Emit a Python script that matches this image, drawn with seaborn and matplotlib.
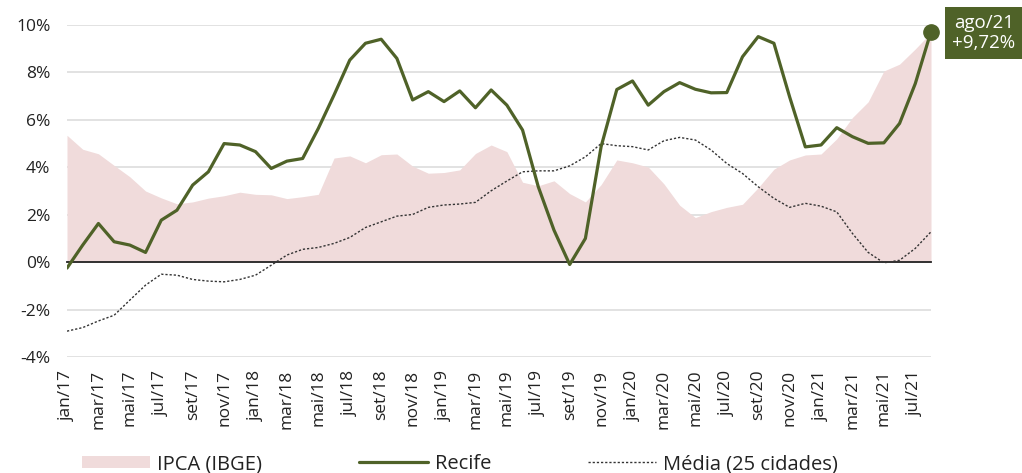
import numpy as np
import pandas as pd
import matplotlib
matplotlib.use('Agg')
import matplotlib.pyplot as plt
from matplotlib.patches import Patch
from matplotlib.lines import Line2D
import seaborn as sns

# ========== 数据 ==========
meses = ['jan', 'fev', 'mar', 'abr', 'mai', 'jun', 'jul', 'ago', 'set', 'out', 'nov', 'dez']
periodos = [f'{m}/{a}' for a in ['17', '18', '19', '20', '21'] for m in meses][:56]   # jan/17 .. ago/21

ipca = [5.35, 4.76, 4.57, 4.08, 3.60, 3.00, 2.71, 2.46, 2.54, 2.70, 2.80, 2.95,
        2.86, 2.84, 2.68, 2.76, 2.86, 4.39, 4.48, 4.19, 4.53, 4.56, 4.05, 3.75,
        3.78, 3.89, 4.58, 4.94, 4.66, 3.37, 3.22, 3.43, 2.89, 2.54, 3.27, 4.31,
        4.19, 4.01, 3.30, 2.40, 1.88, 2.13, 2.31, 2.44, 3.14, 3.92, 4.31, 4.52,
        4.56, 5.20, 6.10, 6.76, 8.06, 8.35, 8.99, 9.68]

recife = [-0.25, 0.72, 1.63, 0.86, 0.72, 0.41, 1.77, 2.19, 3.25, 3.81, 5.00, 4.94,
          4.66, 3.95, 4.26, 4.37, 5.64, 7.05, 8.52, 9.23, 9.40, 8.59, 6.84, 7.19,
          6.77, 7.22, 6.51, 7.26, 6.62, 5.57, 3.18, 1.35, -0.10, 1.00, 4.87, 7.28,
          7.64, 6.62, 7.19, 7.57, 7.29, 7.14, 7.15, 8.66, 9.51, 9.23, 6.97, 4.86,
          4.94, 5.67, 5.29, 5.01, 5.03, 5.85, 7.53, 9.72]

media = [-2.91, -2.76, -2.48, -2.24, -1.60, -0.97, -0.51, -0.55, -0.73, -0.80, -0.83, -0.73,
         -0.55, -0.13, 0.30, 0.54, 0.62, 0.79, 1.04, 1.46, 1.70, 1.94, 2.01, 2.31,
         2.41, 2.45, 2.52, 3.01, 3.42, 3.81, 3.85, 3.85, 4.06, 4.44, 5.00, 4.91,
         4.87, 4.73, 5.12, 5.26, 5.15, 4.73, 4.16, 3.74, 3.18, 2.69, 2.31, 2.48,
         2.36, 2.12, 1.21, 0.41, -0.03, 0.08, 0.58, 1.28]

df = pd.DataFrame({'periodo': periodos, 'ipca': ipca, 'recife': recife, 'media': media})
df['i'] = np.arange(len(df))

verde = '#4f6228'
rosa = '#f0dbdb'
fonte = ['Open Sans', 'DejaVu Sans']

# ========== 绘图 ==========
sns.set_style('white')
plt.rcParams['font.family'] = fonte

fig = plt.figure(figsize=(10.22, 4.73), dpi=100)
ax = fig.add_axes([67 / 1022, 1 - 357 / 473, (931 - 67) / 1022, (357 - 25) / 473])

ax.fill_between(df['i'], 0, df['ipca'], color=rosa, linewidth=0, zorder=1)
sns.lineplot(data=df, x='i', y='media', ax=ax, color='#333333', linewidth=1.0,
             linestyle=(0, (1.6, 1.4)), zorder=3)
sns.lineplot(data=df, x='i', y='recife', ax=ax, color=verde, linewidth=2.3, zorder=4,
             solid_joinstyle='round', solid_capstyle='round')
ax.plot(df['i'].iloc[-1], df['recife'].iloc[-1], 'o', color=verde, markersize=11,
        zorder=5, clip_on=False)

ax.set_xlim(0, len(df) - 1)
ax.set_ylim(-4, 10)
ax.set_yticks([-4, -2, 0, 2, 4, 6, 8, 10])
ax.set_yticklabels([f'{v}%' for v in [-4, -2, 0, 2, 4, 6, 8, 10]])
ax.set_xticks(df['i'][::2])
ax.set_xticklabels(df['periodo'][::2])
ax.set_xlabel('')
ax.set_ylabel('')

for v in [-4, -2, 2, 4, 6, 8, 10]:
    ax.axhline(v, color='#dddddd', linewidth=1.2, zorder=0)

for s in ['top', 'right', 'left']:
    ax.spines[s].set_visible(False)
ax.spines['bottom'].set_position(('data', 0))
ax.spines['bottom'].set_color('#222222')
ax.spines['bottom'].set_linewidth(1.3)
ax.spines['bottom'].set_zorder(2)

ax.tick_params(axis='x', direction='inout', length=9, width=1.0, color='#222222',
               pad=73, labelsize=12.5, labelcolor='#222222', labelrotation=90)
ax.tick_params(axis='y', length=0, pad=12, labelsize=12.5, labelcolor='#222222')

# 标注最后一个点
fig.text(984 / 1022, 1 - 33 / 473, 'ago/21\n+9,72%', ha='center', va='center',
         color='white', fontsize=13.5, linespacing=1.1,
         bbox=dict(boxstyle='square,pad=0.4', facecolor=verde, edgecolor='none'))

# 图例
handles = [Patch(facecolor=rosa, edgecolor='none'),
           Line2D([0], [0], color=verde, linewidth=2.3),
           Line2D([0], [0], color='#333333', linewidth=1.0, linestyle=(0, (1.6, 1.4)))]
fig.legend(handles, ['IPCA (IBGE)', 'Recife', 'Média (25 cidades)'], ncol=3,
           loc='center', bbox_to_anchor=(460 / 1022, 1 - 464 / 473), frameon=False,
           fontsize=14.5, handlelength=3.4, handleheight=0.6, handletextpad=0.35,
           columnspacing=4.8, labelcolor='#222222')

fig.savefig('out.png', dpi=100)
